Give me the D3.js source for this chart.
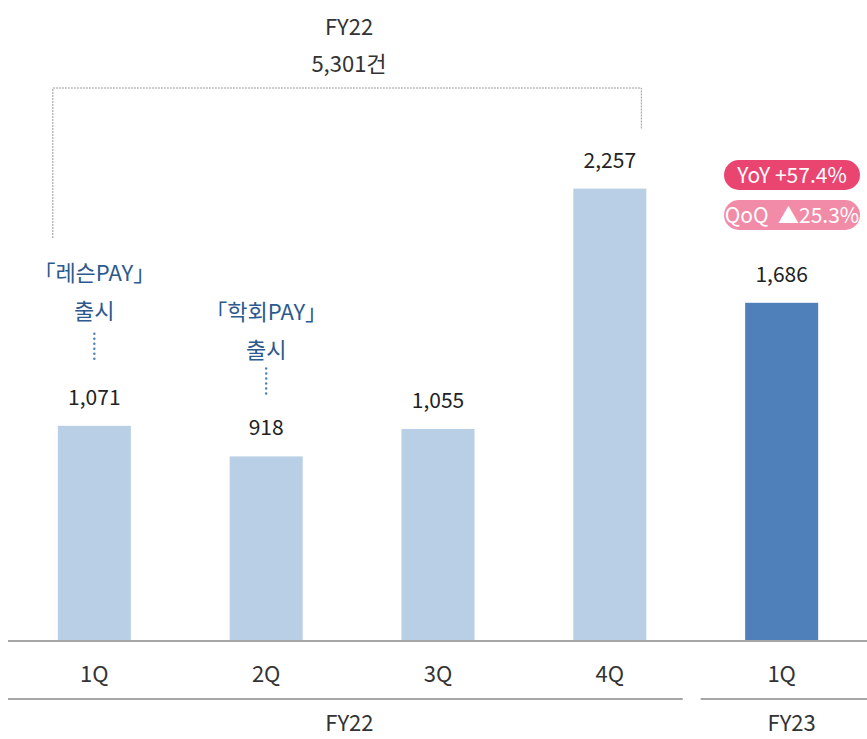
<!DOCTYPE html>
<html>
<head>
<meta charset="utf-8">
<script src="https://cdn.jsdelivr.net/npm/d3@7"></script>
<style>
  body { margin: 0; background: #fff; }
  svg text { font-family: "Noto Sans CJK KR", "Noto Sans", sans-serif; }
</style>
</head>
<body>
<svg id="chart" width="867" height="739"></svg>
<script>
var quarters = ["1Q", "2Q", "3Q", "4Q", "1Q "];
var values = [1071, 918, 1055, 2257, 1686];
var years = [
  { label: "FY22", from: 0, to: 3 },
  { label: "FY23", from: 4, to: 4 }
];
var launches = [
  { idx: 0, name: "「레슨PAY」" },
  { idx: 1, name: "「학회PAY」" }
];
var badges = [
  { text: "YoY +57.4%", color: "#ea4571" },
  { text: "QoQ  ▲25.3%", color: "#f18ba7" }
];
var fy22Total = "5,301건";

var svg = d3.select("#chart");
var base = 640;

var x = d3.scaleBand()
  .domain(quarters)
  .range([8, 868])
  .paddingInner(0.575)
  .paddingOuter(0.29);

var y = d3.scaleLinear()
  .domain([0, 3200])
  .range([base, 0]);

// bars
svg.selectAll("rect.bar")
  .data(values)
  .enter()
  .append("rect")
  .attr("class", "bar")
  .attr("x", function(d, i) { return x(quarters[i]); })
  .attr("y", function(d) { return y(d); })
  .attr("width", x.bandwidth())
  .attr("height", function(d) { return base - y(d); })
  .style("fill", function(d, i) { return i == 4 ? "#4f80ba" : "#b9cfe6"; });

// value labels
svg.selectAll("text.val")
  .data(values)
  .enter()
  .append("text")
  .attr("class", "val")
  .attr("x", function(d, i) { return x(quarters[i]) + x.bandwidth() / 2; })
  .attr("y", function(d) { return y(d) - 21; })
  .attr("text-anchor", "middle")
  .style("font-size", "21px")
  .style("fill", "#222")
  .text(function(d) { return d3.format(",")(d); });

// axis line
svg.append("line")
  .attr("x1", 8).attr("x2", 867)
  .attr("y1", base + 1).attr("y2", base + 1)
  .style("stroke", "#a6a6a6")
  .style("stroke-width", 2);

// quarter labels
svg.selectAll("text.cat")
  .data(quarters)
  .enter()
  .append("text")
  .attr("class", "cat")
  .attr("x", function(d) { return x(d) + x.bandwidth() / 2; })
  .attr("y", 682)
  .attr("text-anchor", "middle")
  .style("font-size", "22px")
  .style("fill", "#333")
  .text(function(d) { return d.trim(); });

// year groups
var step = x.step();
years.forEach(function(g, k) {
  var x1 = k == 0 ? 8 : x(quarters[g.from]) - (step - x.bandwidth()) / 2 + 5;
  var x2 = k == 0 ? x(quarters[g.to]) + x.bandwidth() + (step - x.bandwidth()) / 2 - 13 : 867;
  svg.append("line")
    .attr("x1", x1).attr("x2", x2)
    .attr("y1", 699).attr("y2", 699)
    .style("stroke", "#a6a6a6")
    .style("stroke-width", 2);
  var cx = k == 0 ? (x1 + x2) / 2 + 4 : x(quarters[g.from]) + x.bandwidth() / 2 + 10;
  svg.append("text")
    .attr("x", cx)
    .attr("y", 731)
    .attr("text-anchor", "middle")
    .style("font-size", "22px")
    .style("fill", "#333")
    .text(g.label);
});

// FY22 bracket
var bx1 = x(quarters[0]) - 5;
var bx2 = x(quarters[3]) + x.bandwidth() - 5;
svg.append("path")
  .attr("d", "M" + bx1 + "," + 238 + "V88H" + bx2 + "V129")
  .style("fill", "none")
  .style("stroke", "#999")
  .style("stroke-width", 1)
  .style("stroke-dasharray", "2,1");

svg.append("text")
  .attr("x", 349).attr("y", 35)
  .attr("text-anchor", "middle")
  .style("font-size", "22px")
  .style("fill", "#333")
  .text("FY22");
svg.append("text")
  .attr("x", 349).attr("y", 72)
  .attr("text-anchor", "middle")
  .style("font-size", "22px")
  .style("fill", "#333")
  .text(fy22Total);

// launch annotations
launches.forEach(function(l, i) {
  var cx = x(quarters[l.idx]) + x.bandwidth() / 2;
  var top = y(values[l.idx]) - (i == 0 ? 94 : 90);
  var txt = i == 0 ? 0 : 5;
  svg.append("text")
    .attr("x", cx).attr("y", top - 51 + txt)
    .attr("text-anchor", "middle")
    .style("font-size", "22px")
    .style("fill", "#2c5a8e")
    .text(l.name);
  svg.append("text")
    .attr("x", cx).attr("y", top - 13 + txt)
    .attr("text-anchor", "middle")
    .style("font-size", "22px")
    .style("fill", "#2c5a8e")
    .text("출시");
  svg.append("line")
    .attr("x1", cx).attr("x2", cx)
    .attr("y1", top + 2).attr("y2", top + 32)
    .style("stroke", "#4f80ba")
    .style("stroke-width", 2.5)
    .style("stroke-linecap", "round")
    .style("stroke-dasharray", "0,5");
});

// badges
badges.forEach(function(b, i) {
  var g = svg.append("g").attr("transform", "translate(724," + (160 + i * 40) + ")");
  g.append("rect")
    .attr("width", 136).attr("height", 30)
    .attr("rx", 15).attr("ry", 15)
    .style("fill", b.color);
  g.append("text")
    .attr("x", 68).attr("y", 23)
    .attr("text-anchor", "middle")
    .style("font-size", "21px")
    .style("white-space", "pre")
    .style("fill", "#fff")
    .text(b.text);
});
</script>
</body>
</html>
